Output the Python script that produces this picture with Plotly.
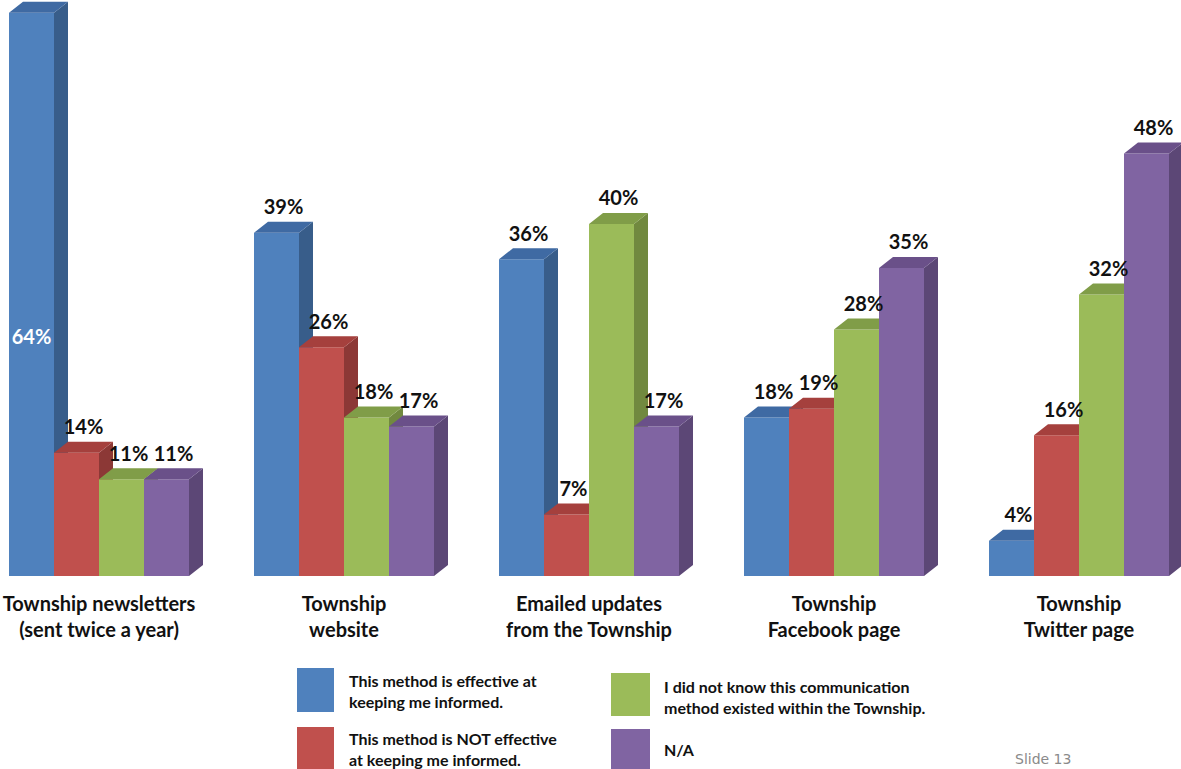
import plotly.graph_objects as go

# ---- data -------------------------------------------------------------
categories = [
    "Township newsletters<br>(sent twice a year)",
    "Township<br>website",
    "Emailed updates<br>from the Township",
    "Township<br>Facebook page",
    "Township<br>Twitter page",
]
series_names = [
    "This method is effective at<br>keeping me informed.",
    "This method is NOT effective<br>at keeping me informed.",
    "I did not know this communication<br>method existed within the Township.",
    "N/A",
]
effective = [64, 39, 36, 18, 4]
not_effective = [14, 26, 7, 19, 16]
did_not_know = [11, 18, 40, 28, 32]
not_applicable = [11, 17, 17, 35, 48]
series_values = [effective, not_effective, did_not_know, not_applicable]

# ---- styling ----------------------------------------------------------
front_colors = ["#4F81BD", "#C0504D", "#9BBB59", "#8064A2"]
side_colors = ["#385D8A", "#8C3836", "#71893F", "#5C4776"]
top_colors = ["#3F6AA3", "#A5403D", "#809D48", "#6A5089"]

W, H = 1181, 769
PLOT_H = 576              # plot area height in px (baseline of the bars)
PX_PER_UNIT_X = 245.0     # px between category centres
FIRST_CENTRE_PX = 99.0
PX_PER_PCT = 8.8

bar_w = 45.0 / PX_PER_UNIT_X        # one bar, in x units
depth_x = 14.0 / PX_PER_UNIT_X      # 3-D depth offset, x units
depth_y = 11.0 / PX_PER_PCT         # 3-D depth offset, y units

x_lo = -FIRST_CENTRE_PX / PX_PER_UNIT_X
x_hi = x_lo + W / PX_PER_UNIT_X
y_hi = PLOT_H / PX_PER_PCT

label_font = "Lato, 'Open Sans', sans-serif"

fig = go.Figure()
xs = list(range(len(categories)))

for k, (vals, name) in enumerate(zip(series_values, series_names)):
    off = (k - 2) * bar_w
    # front faces
    fig.add_trace(go.Bar(
        x=xs, y=vals, width=bar_w, offset=off,
        marker=dict(color=front_colors[k], line=dict(width=0)),
        name=name, showlegend=False, hoverinfo="skip", zorder=2 * k,
    ))
    # side and top faces
    sx, sy, tx, ty = [], [], [], []
    for i, v in zip(xs, vals):
        x0 = i + off
        x1 = x0 + bar_w
        sx += [x1, x1 + depth_x, x1 + depth_x, x1, x1, None]
        sy += [0, depth_y, v + depth_y, v, 0, None]
        tx += [x0, x0 + depth_x, x1 + depth_x, x1, x0, None]
        ty += [v, v + depth_y, v + depth_y, v, v, None]
    fig.add_trace(go.Scatter(
        x=sx, y=sy, mode="lines", fill="toself", fillcolor=side_colors[k],
        line=dict(width=0, color=side_colors[k]), showlegend=False,
        hoverinfo="skip", zorder=2 * k + 1,
    ))
    fig.add_trace(go.Scatter(
        x=tx, y=ty, mode="lines", fill="toself", fillcolor=top_colors[k],
        line=dict(width=0, color=top_colors[k]), showlegend=False,
        hoverinfo="skip", zorder=2 * k + 1,
    ))

    # value labels: above the bar, or inside it when there is no room
    ox, oy, ot, ix, iy, it = [], [], [], [], [], []
    for i, v in zip(xs, vals):
        cx = i + off + bar_w / 2
        if v + depth_y + 3.5 > y_hi:
            ix.append(cx)
            iy.append(v * 0.42)
            it.append(f"<b>{v}%</b>")
        else:
            ox.append(cx + depth_x / 2)
            oy.append(v + depth_y + 0.3)
            ot.append(f"<b>{v}%</b>")
    fig.add_trace(go.Scatter(
        x=ox, y=oy, text=ot, mode="text", textposition="top center",
        textfont=dict(family=label_font, size=20, color="#111111"),
        showlegend=False, hoverinfo="skip", cliponaxis=False, zorder=20,
    ))
    if ix:
        fig.add_trace(go.Scatter(
            x=ix, y=iy, text=it, mode="text", textposition="middle center",
            textfont=dict(family=label_font, size=20, color="#FFFFFF"),
            showlegend=False, hoverinfo="skip", cliponaxis=False, zorder=20,
        ))


# ---- custom legend (pixel helpers -> paper coords) --------------------
def px(xp):
    return xp / W


def py(yp):
    return 1 - yp / PLOT_H


legend_slots = [
    (297, 668, 334, 712, 347, 691),
    (297, 727, 334, 772, 347, 749),
    (611, 673, 650, 716, 662, 697),
    (611, 729, 650, 772, 662, 749),
]
shapes = []
annotations = []
for k, (x0, y0, x1, y1, tx, tyc) in enumerate(legend_slots):
    shapes.append(dict(
        type="rect", xref="paper", yref="paper",
        x0=px(x0), x1=px(x1), y0=py(y1), y1=py(y0),
        fillcolor=front_colors[k], line=dict(width=0),
    ))
    annotations.append(dict(
        xref="paper", yref="paper", x=px(tx), y=py(tyc),
        xanchor="left", yanchor="middle", align="left",
        text=f"<b>{series_names[k]}</b>", showarrow=False,
        font=dict(family=label_font, size=16, color="#111111"),
    ))

annotations.append(dict(
    xref="paper", yref="paper", x=px(1043), y=py(759),
    xanchor="center", yanchor="middle", text="Slide 13", showarrow=False,
    font=dict(family="'DejaVu Sans', sans-serif", size=14, color="#8A8A8A"),
))

fig.update_layout(
    width=W, height=H,
    margin=dict(l=0, r=0, t=0, b=H - PLOT_H),
    paper_bgcolor="white", plot_bgcolor="white",
    shapes=shapes, annotations=annotations,
    showlegend=False,
    xaxis=dict(
        range=[x_lo, x_hi], tickvals=xs,
        ticktext=[f"<b>{c}</b>" for c in categories],
        tickfont=dict(family=label_font, size=20, color="#111111"),
        showgrid=False, zeroline=False, showline=False, ticks="",
        ticklabelstandoff=14, fixedrange=True,
    ),
    yaxis=dict(
        range=[0, y_hi], visible=False, showgrid=False, zeroline=False,
        fixedrange=True,
    ),
)

fig.write_html("out.html")
